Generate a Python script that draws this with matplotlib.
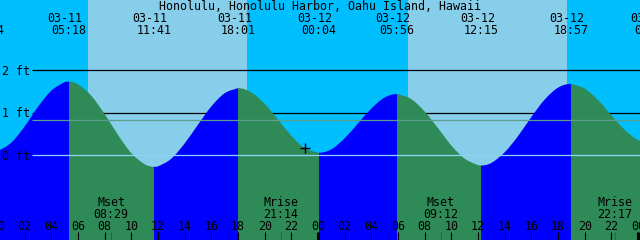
import matplotlib
matplotlib.use("Agg")
import matplotlib.pyplot as plt
from matplotlib.patches import PathPatch
from matplotlib.path import Path
from matplotlib.transforms import blended_transform_factory

# hourly water level readings (ft), hours from 03-11 00:00
hours = list(range(0, 50))
levels = [0.11, 0.30, 0.68, 1.14, 1.52, 1.72, 1.67, 1.40, 0.97, 0.48,
          0.05, -0.21, -0.26, -0.08, 0.28, 0.72, 1.15, 1.46, 1.58, 1.48,
          1.21, 0.84, 0.46, 0.17, 0.06, 0.14, 0.40, 0.75, 1.10, 1.36,
          1.44, 1.32, 1.03, 0.64, 0.23, -0.08, -0.23, -0.18, 0.07, 0.45,
          0.90, 1.31, 1.59, 1.68, 1.57, 1.30, 0.94, 0.60, 0.36, 0.30]

# highs and lows
ext_hours = [-0.85, 5.30, 11.68, 18.02, 24.07, 29.93, 36.25, 42.95, 49.05]
ext_levels = [0.08, 1.73, -0.27, 1.58, 0.06, 1.44, -0.24, 1.68, 0.30]
ext_dates = ['03-10', '03-11', '03-11', '03-11', '03-12', '03-12', '03-12', '03-12', '03-13']
ext_times = ['23:14', '05:18', '11:41', '18:01', '00:04', '05:56', '12:15', '18:57', '01:03']

sunrise = [6.75, 30.75]
sunset = [18.68, 42.68]

moon_hours = [8.48, 21.23, 33.20, 46.28]
moon_names = ['Mset', 'Mrise', 'Mset', 'Mrise']
moon_times = ['08:29', '21:14', '09:12', '22:17']

now_hour, now_level = 23.03, 0.17
mid_level = 0.82
ft_marks = [2, 1, 0]

title = "Honolulu, Honolulu Harbor, Oahu Island, Hawaii"

NIGHT, DAY = '#00BFFF', '#87CEEB'
RISE, FALL = '#0000FF', '#2E8B57'
FONT = dict(family='DejaVu Sans Mono', fontsize=8.4, color='black')

W, H = 640, 240
x0, x1 = 0.15, 48.15
y0, y1 = -1.993, 3.654

fig = plt.figure(figsize=(6.4, 2.4), dpi=100)
ax = fig.add_axes([0, 0, 1, 1])
ax.set_xlim(x0, x1)
ax.set_ylim(y0, y1)
ax.axis('off')
fig.patch.set_facecolor(NIGHT)

tr = blended_transform_factory(ax.transData, ax.transAxes)
def top(ypx):
    return 1 - ypx / H

for a, b in zip(sunrise, sunset):
    ax.axvspan(a, b, color=DAY, lw=0, zorder=0)

# grid lines behind the water
line_start = x0 + 32 / W * (x1 - x0)
for f in ft_marks[:2]:
    ax.hlines(f, line_start, x1, color='black', lw=0.9, zorder=1)

# water outline: smooth curve through the readings (flat at highs/lows)
pts = sorted(zip(hours + ext_hours, levels + ext_levels))
xs = [p[0] for p in pts]
ys = [p[1] for p in pts]
slopes = []
for i in range(len(xs)):
    if xs[i] in ext_hours:
        slopes.append(0.0)
    else:
        j, k = max(i - 1, 0), min(i + 1, len(xs) - 1)
        slopes.append((ys[k] - ys[j]) / (xs[k] - xs[j]))
verts = [(xs[0], ys[0])]
codes = [Path.MOVETO]
for i in range(len(xs) - 1):
    d = (xs[i + 1] - xs[i]) / 3
    verts += [(xs[i] + d, ys[i] + slopes[i] * d),
              (xs[i + 1] - d, ys[i + 1] - slopes[i + 1] * d),
              (xs[i + 1], ys[i + 1])]
    codes += [Path.CURVE4] * 3
verts += [(xs[-1], y0 - 1), (xs[0], y0 - 1), (xs[0], ys[0])]
codes += [Path.LINETO, Path.LINETO, Path.CLOSEPOLY]
water = PathPatch(Path(verts, codes), facecolor='none', edgecolor='none',
                  transform=ax.transData)
ax.add_patch(water)
for i in range(len(ext_hours) - 1):
    rising = ext_levels[i + 1] > ext_levels[i]
    span = ax.axvspan(ext_hours[i], ext_hours[i + 1], color=RISE if rising else FALL,
                      lw=0, zorder=2)
    span.set_clip_path(water)

ax.hlines(mid_level, line_start, x1, color='#5E9E8C', lw=0.9, zorder=3)
ax.hlines(0, line_start, x1, color='#90D2F2', lw=0.9, zorder=3)

# left labels
for f in ft_marks:
    ypx = 155.3 - 42.5 * f
    ax.text(2 / W, top(ypx + 4.2), f'{f} ft', transform=ax.transAxes,
            ha='left', va='baseline', zorder=5, **FONT)

# top labels
ax.text(0.5, top(10), title, transform=ax.transAxes, ha='center',
        va='baseline', zorder=5, **FONT)
px_h = (x1 - x0) / W
for h, d, t in zip(ext_hours, ext_dates, ext_times):
    ax.text(h - 4 * px_h, top(22), d, transform=tr, ha='center', va='baseline', zorder=5, **FONT)
    ax.text(h, top(34.3), t, transform=tr, ha='center', va='baseline', zorder=5, **FONT)

# moon
for h, n, t in zip(moon_hours, moon_names, moon_times):
    ax.text(h, top(206), n, transform=tr, ha='center', va='baseline', zorder=5, **FONT)
    ax.text(h, top(217.7), t, transform=tr, ha='center', va='baseline', zorder=5, **FONT)
    ax.vlines(h, 0, 8 / H, transform=tr, color='#505050', lw=0.8, zorder=5)

# hour axis
for h in range(0, 50, 2):
    ax.text(h, top(230), f'{h % 24:02d}', transform=tr, ha='center', va='baseline', zorder=5, **FONT)
    lw = 2.2 if h % 24 == 0 else 0.8
    ax.vlines(h, 0, 8 / H, transform=tr, color='black', lw=lw, zorder=5)

ax.plot([now_hour], [now_level], marker='+', color='black', ms=7.5, mew=1.0, zorder=6)

fig.savefig('out.png', dpi=100, facecolor=NIGHT)
